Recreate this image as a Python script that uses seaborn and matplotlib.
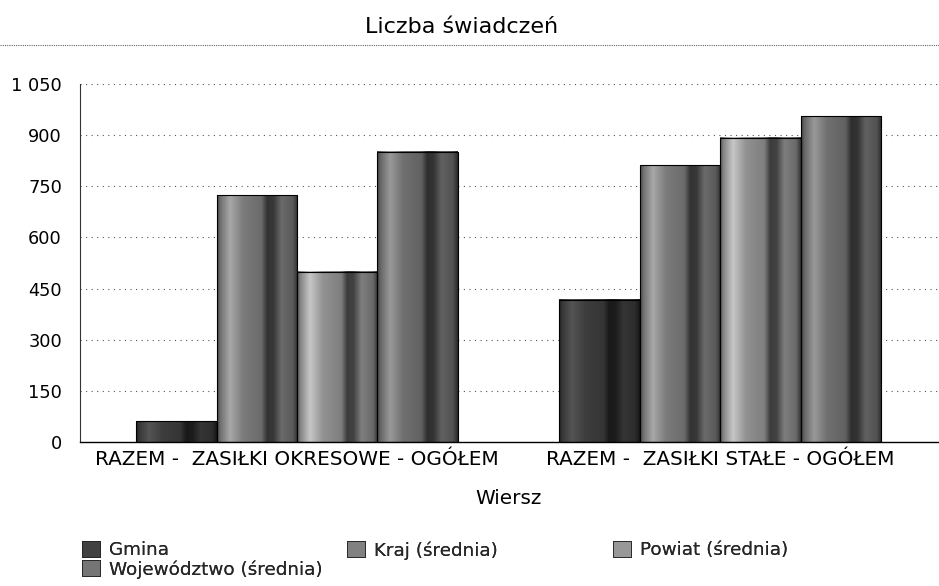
import numpy as np
import pandas as pd
import matplotlib
matplotlib.use("Agg")
import matplotlib.pyplot as plt
from matplotlib.patches import Patch
from matplotlib.lines import Line2D
from matplotlib.ticker import FixedLocator
import seaborn as sns

# Data
categories = ["RAZEM -  ZASIŁKI OKRESOWE - OGÓŁEM", "RAZEM -  ZASIŁKI STAŁE - OGÓŁEM"]
series = ["Gmina", "Kraj (średnia)", "Powiat (średnia)", "Województwo (średnia)"]
gmina = [61, 417]
kraj = [723, 812]
powiat = [500, 892]
wojewodztwo = [852, 956]
y_ticks = [0, 150, 300, 450, 600, 750, 900, 1050]
y_tick_labels = ["0", "150", "300", "450", "600", "750", "900", "1 050"]

df = pd.DataFrame({
    "Wiersz": categories * 4,
    "Seria": [s for s in series for _ in categories],
    "Wartosc": gmina + kraj + powiat + wojewodztwo,
})

base_gray = {
    "Gmina": 0.22,
    "Kraj (średnia)": 0.44,
    "Powiat (średnia)": 0.52,
    "Województwo (średnia)": 0.40,
}

sns.set_theme(style="white")
plt.rcParams["font.family"] = ["DejaVu Sans"]

W, H = 939, 586
fig = plt.figure(figsize=(W / 100, H / 100), dpi=100)
ax = fig.add_axes([80 / W, 1 - 442 / H, 858 / W, 358 / H])

palette = {s: (base_gray[s],) * 3 for s in series}
sns.barplot(data=df, x="Wiersz", y="Wartosc", hue="Seria", order=categories,
            hue_order=series, palette=palette, width=0.76, ax=ax,
            edgecolor="black", linewidth=0.8, legend=False, errorbar=None)

# Cylinder-like horizontal shading for each bar
t_pts = [0.0, 0.04, 0.16, 0.32, 0.55, 0.62, 0.70, 0.80, 0.94, 1.0]
f_pts = [0.60, 1.00, 1.50, 1.10, 0.95, 0.45, 0.50, 0.95, 0.80, 0.40]
tt = np.linspace(0, 1, 200)
shade = np.interp(tt, t_pts, f_pts)

bars = [p for p in ax.patches if p.get_height() > 0]
for p in bars:
    g = p.get_facecolor()[0]
    row = np.clip(g * shade, 0, 1)
    img = np.repeat(row[None, :, None], 3, axis=2)
    x0, w, h = p.get_x(), p.get_width(), p.get_height()
    ax.imshow(img, extent=[x0, x0 + w, 0, h], aspect="auto",
              interpolation="bilinear", zorder=p.get_zorder() + 0.1)
    p.set_facecolor("none")
    p.set_zorder(p.get_zorder() + 0.2)

ax.set_xlim(-0.513, 1.515)
ax.set_ylim(0, 1050)
ax.yaxis.set_major_locator(FixedLocator(y_ticks))
ax.set_yticklabels(y_tick_labels)
ax.tick_params(axis="both", length=0, colors="black")
ax.tick_params(axis="y", pad=13, labelsize=12.8)
ax.tick_params(axis="x", pad=6, labelsize=14.4)
ax.set_ylabel("")
ax.set_xlabel("Wiersz", fontsize=14.4, labelpad=14, color="black")

ax.yaxis.grid(True, color="#555555", linestyle=(0, (1, 4)), linewidth=0.8)
ax.set_axisbelow(True)
for side in ("top", "right"):
    ax.spines[side].set_visible(False)
ax.spines["left"].set_linestyle((0, (1, 1)))
ax.spines["left"].set_color("#333333")
ax.spines["left"].set_linewidth(0.8)
ax.spines["bottom"].set_color("black")
ax.spines["bottom"].set_linewidth(1.0)

# Title with a dotted rule beneath it
fig.text(462 / W, 1 - 33 / H, "Liczba świadczeń", ha="center", va="baseline",
         fontsize=16, color="black")
fig.add_artist(Line2D([0, 1], [1 - 45 / H] * 2, transform=fig.transFigure,
                      color="#666666", linestyle=(0, (1, 1)), linewidth=0.8))

# Legend laid out in three fixed-width columns
columns = [(82, [0, 3]), (347, [1]), (613, [2])]
for x_px, idx in columns:
    handles = [Patch(facecolor=(min(base_gray[series[i]] * 1.15, 1),) * 3,
                     edgecolor="#222222", linewidth=0.6, label=series[i]) for i in idx]
    leg = fig.legend(handles=handles, loc="upper left",
                     bbox_to_anchor=(x_px / W, 1 - 541 / H), frameon=False,
                     fontsize=13.2, handlelength=1.0, handleheight=0.95,
                     handletextpad=0.45, labelspacing=0.05, borderaxespad=0,
                     borderpad=0)
    fig.add_artist(leg)

fig.savefig("out.png", dpi=100)
